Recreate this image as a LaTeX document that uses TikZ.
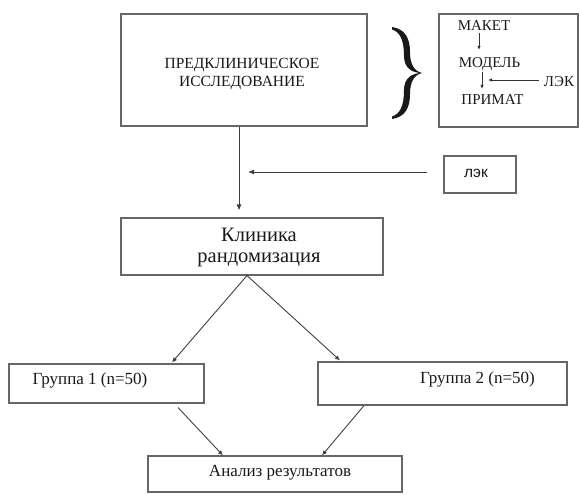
\documentclass[tikz,border=0pt]{standalone}
\usepackage{fontspec}
\setmainfont{Liberation Serif}
\newfontfamily\arialf{Liberation Sans}
\usetikzlibrary{arrows.meta,calc}
\begin{document}
\begin{tikzpicture}[x=1pt,y=-1pt,
  box/.style={draw=black!60, line width=1.1pt, rectangle, inner sep=0pt},
  arr/.style={draw=black!75, line width=0.9pt, -{Latex[length=5pt,width=4.5pt]}},
  sarr/.style={draw=black!80, line width=0.9pt, -{Latex[length=4pt,width=3.5pt]}},
  txt/.style={text=black!90, inner sep=0pt, align=center},
  tr/.style={txt, font=\fontsize{15}{15}\selectfont, anchor=base},
]
\useasboundingbox (0,0) rectangle (579,495);

% preclinical box
\node[box, minimum width=246pt, minimum height=112pt] (pre) at (244,70) {};
\node[txt, font=\fontsize{15.5}{18}\selectfont] (pret) at (242,74) {ПРЕДКЛИНИЧЕСКОЕ\\ИССЛЕДОВАНИЕ};

% brace
\fill[black!90] (392,27) .. controls (405,29) and (410,38) .. (410,52)
  .. controls (410,64) and (414,71) .. (422,73)
  .. controls (412,73) and (404,68) .. (404,56)
  .. controls (404,40) and (400,32) .. (392,29.5) -- cycle;
\fill[black!90] (392,119) .. controls (405,117) and (410,108) .. (410,94)
  .. controls (410,82) and (414,75) .. (422,73)
  .. controls (412,73) and (404,78) .. (404,90)
  .. controls (404,106) and (400,114) .. (392,116.5) -- cycle;

% top-right box
\node[box, minimum width=139pt, minimum height=113pt] (tr) at (508.5,70.5) {};
\node[tr] (mak) at (484,31) {МАКЕТ};
\node[tr] (mod) at (489.5,68) {МОДЕЛЬ};
\node[tr] (prim) at (492.5,105) {ПРИМАТ};
\node[tr] (lekb) at (559,87) {ЛЭК};
\coordinate (ax1) at (479,0);
\coordinate (ax2) at (482,0);
\coordinate (ay) at (0,80);
\draw[sarr, shorten <=2pt, shorten >=8pt] (mak.south -| ax1) -- (mod.north -| ax1);
\draw[sarr, shorten <=1pt, shorten >=6pt] (mod.south -| ax2) -- (prim.north -| ax2);
\draw[sarr, shorten <=5pt, shorten >=6pt] (lekb.west |- ay) -- (ax2 |- ay);

% middle
\node[box, minimum width=262pt, minimum height=57pt] (klin) at (252,246.5) {};
\node[txt, font=\fontsize{20.5}{21}\selectfont] (klint) at (259,247.5) {Клиника\\рандомизация};
\coordinate (vx) at (239,0);
\coordinate (vy) at (0,172);
\draw[arr, -{Latex[length=6pt,width=5pt]}, shorten >=7pt] (pre.south -| vx) -- (klin.north -| vx);

\node[box, minimum width=72pt, minimum height=37pt] (lek) at (480,174.5) {};
\node[txt, font=\arialf\fontsize{15.5}{15}\selectfont] (lekt) at (476,173) {лэк};
\draw[arr, -{Latex[length=6pt,width=5pt]}, shorten <=16pt, shorten >=9pt] (lek.west |- vy) -- (vx |- vy);

% groups
\node[box, minimum width=195pt, minimum height=39pt] (g1) at (106.5,383.5) {};
\node[txt, font=\fontsize{17}{17}\selectfont] (g1t) at (90,380) {Группа 1 (n=50)};
\node[box, minimum width=249pt, minimum height=43pt] (g2) at (442.5,383.5) {};
\node[txt, font=\fontsize{17}{17}\selectfont] (g2t) at (477.5,379) {Группа 2 (n=50)};
\node[box, minimum width=254pt, minimum height=36pt] (an) at (275,474) {};
\node[txt, font=\fontsize{17}{17}\selectfont] (ant) at (280,473) {Анализ результатов};

\draw[arr] ([xshift=-5pt]klin.south) -- ([xshift=65.5pt,yshift=1pt]g1.north);
\draw[arr] ([xshift=-5pt]klin.south) -- ([xshift=-102.5pt,yshift=1pt]g2.north);
\draw[arr] ([xshift=71.5pt,yshift=-4pt]g1.south) -- ([xshift=-52pt]an.north);
\draw[arr] ([xshift=-78.5pt]g2.south) -- ([xshift=47pt]an.north);
\end{tikzpicture}
\end{document}
